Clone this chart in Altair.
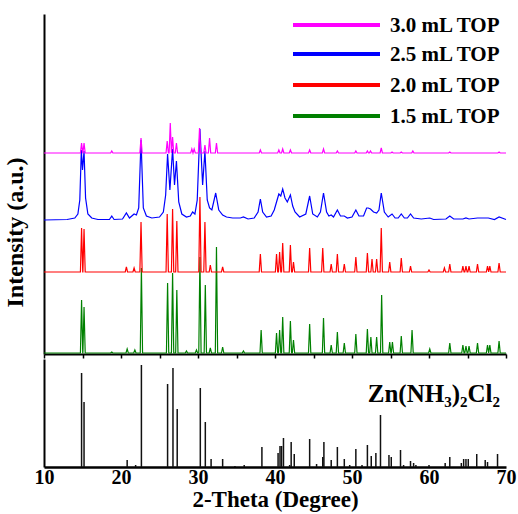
import altair as alt
import pandas as pd

# ---- data -------------------------------------------------------------
samples = ["1.5 mL TOP", "2.0 mL TOP", "2.5 mL TOP", "3.0 mL TOP"]
colors = ["#008000", "#ff0000", "#0000ff", "#ff00ff"]

# 1.5 mL TOP : peak positions (2θ, deg) and heights (a.u.)
green_pos = [14.88, 15.2, 18.8, 20.8, 21.8, 22.65, 26.05, 26.7, 27.25, 28.5, 29.8,
             30.25, 30.95, 31.6, 32.4, 33.2, 35.9, 38.2, 40.2, 40.6, 41.0, 42.0,
             42.4, 44.5, 46.3, 47.3, 48.1, 49.0, 50.5, 52.0, 52.45, 53.2, 53.85,
             54.9, 55.25, 56.4, 57.8, 60.1, 62.7, 64.4, 64.8, 65.2, 66.3, 67.6,
             67.9, 69.1]
green_int = [53, 46, 1, 4, 3, 85, 70, 80, 63, 2, 3,
             96, 68, 5, 106, 6, 2, 23, 20, 23, 36, 32,
             13, 29, 35, 8, 21, 10, 19, 24, 16, 16, 58,
             11, 11, 17, 23, 4, 10, 8, 7, 7, 10, 8,
             8, 12]

# 2.0 mL TOP
red_pos = [14.88, 15.2, 20.7, 21.7, 22.6, 26.0, 26.7, 27.25, 30.25, 30.9, 31.6,
           33.2, 38.1, 40.2, 40.6, 41.0, 42.0, 42.4, 44.5, 46.2, 47.3, 48.1,
           49.0, 50.5, 52.0, 52.6, 53.2, 53.8, 54.9, 56.4, 57.6, 60.0, 62.0,
           62.7, 64.4, 64.8, 65.2, 66.3, 67.6, 67.9, 69.1]
red_int = [44, 43, 5, 4, 50, 58, 63, 51, 75, 50, 7,
           5, 18, 18, 20, 29, 27, 10, 24, 24, 8, 18,
           8, 15, 19, 13, 13, 44, 10, 14, 6, 2, 4,
           8, 6, 6, 6, 8, 6, 6, 9]

# 2.5 mL TOP : broad profile, traced point by point
blue_x = [10.0, 13.0, 14.0, 14.4, 14.65, 14.85, 15.0, 15.2, 15.4, 15.7,
          16.2, 17.0, 18.5, 18.8, 19.1, 20.2, 20.7, 21.1, 21.7, 22.0,
          22.3, 22.6, 22.9, 23.3, 24.0, 25.0, 25.5, 25.8, 26.05, 26.35,
          26.7, 26.95, 27.2, 27.5, 27.9, 28.5, 29.0, 29.3, 29.6, 29.9,
          30.25, 30.6, 30.9, 31.2, 31.5, 31.8, 32.3, 32.7, 33.2, 33.7,
          34.5, 35.5, 35.9, 36.5, 37.3, 37.8, 38.1, 38.4, 38.9, 39.5,
          39.9, 40.2, 40.5, 40.75, 41.0, 41.3, 41.6, 42.0, 42.3, 42.6,
          43.2, 44.0, 44.5, 44.9, 45.5, 45.9, 46.3, 46.7, 47.0, 47.3,
          47.6, 48.1, 48.5, 49.0, 49.4, 50.0, 50.5, 50.9, 51.5, 51.9,
          52.1, 52.4, 52.8, 53.2, 53.5, 53.8, 54.2, 54.7, 55.2, 55.6,
          56.0, 56.4, 56.8, 57.2, 57.6, 58.0, 59.0, 60.1, 60.6, 62.2,
          62.7, 63.2, 64.4, 64.8, 65.2, 66.3, 67.7, 68.5, 69.1, 70.0]
blue_y = [0, 0.5, 2, 6, 20, 70, 50, 69, 22, 6,
          2, 0.5, 0.5, 4, 0.5, 1, 7, 2, 6, 5,
          12, 80, 12, 4, 2, 3, 8, 25, 66, 30,
          71, 35, 59, 18, 6, 3, 4, 8, 6, 20,
          91, 35, 69, 20, 12, 10, 27, 10, 5, 3,
          2, 2, 3, 1, 2, 8, 21, 8, 3, 4,
          10, 18, 26, 24, 31, 22, 18, 25, 14, 8,
          3, 6, 24, 6, 3, 8, 27, 8, 4, 5,
          3, 10, 4, 4, 2, 3, 10, 4, 4, 12,
          12, 11, 8, 7, 10, 27, 8, 3, 6, 2,
          2, 6, 2, 2, 6, 2, 1, 2, 0.5, 1,
          4, 1, 1, 2, 1, 2, 2, 0.5, 3, 0.5]

# 3.0 mL TOP
magenta_pos = [14.88, 15.2, 18.8, 22.6, 26.0, 26.4, 26.7, 27.2, 29.2, 29.5,
               30.2, 30.9, 31.5, 32.4, 38.1, 40.5, 41.0, 42.0, 44.5, 46.3,
               48.1, 50.5, 52.0, 52.4, 53.8, 55.2, 56.4, 57.9, 62.7, 69.1]
magenta_int = [10, 10, 2, 15, 12, 30, 16, 10, 4, 4,
               25, 8, 15, 10, 3, 3, 4, 3, 3, 4,
               2, 2, 2, 2, 5, 1, 1, 2, 1, 1]

# Reference pattern Zn(NH3)2Cl2 : line positions and relative intensities
ref_pos = [14.88, 15.2, 20.8, 21.9, 22.65, 26.05, 26.75, 27.3, 30.3, 30.95,
           31.7, 33.2, 34.8, 36.0, 38.3, 40.4, 40.65, 40.85, 41.1, 41.9,
           42.1, 42.5, 44.5, 45.4, 46.2, 46.35, 47.3, 48.1, 49.0, 49.7,
           50.5, 51.3, 52.0, 52.5, 53.1, 53.7, 54.8, 55.1, 56.3, 56.7,
           57.6, 58.0, 58.3, 60.0, 62.1, 62.7, 64.2, 64.5, 64.8, 65.1,
           66.2, 67.3, 67.6, 68.9]
ref_int = [94, 65, 7, 2, 102, 83, 99, 58, 79, 45,
           8, 8, 1, 2, 20, 14, 21, 21, 29, 2,
           25, 13, 28, 3, 10, 25, 7, 20, 8, 2,
           18, 2, 22, 11, 14, 52, 12, 10, 17, 2,
           6, 4, 2, 2, 4, 10, 4, 8, 8, 8,
           13, 7, 5, 13]
ref_label = "Zn(NH₃)₂Cl₂"

# ---- build the stacked traces ----------------------------------------
X_MIN, X_MAX = 10, 70
PEAK_HW = 0.15  # half base width of a sharp reflection, degrees


def peak_outline(pos, inten):
    xs, ys = [X_MIN], [0.0]
    for p, h in zip(pos, inten):
        xs += [p - PEAK_HW, p, p + PEAK_HW]
        ys += [0.0, h, 0.0]
    xs.append(X_MAX)
    ys.append(0.0)
    return xs, ys


profiles = {
    "1.5 mL TOP": peak_outline(green_pos, green_int),
    "2.0 mL TOP": peak_outline(red_pos, red_int),
    "2.5 mL TOP": (blue_x, blue_y),
    "3.0 mL TOP": peak_outline(magenta_pos, magenta_int),
}
stack_offset = {"1.5 mL TOP": 1, "2.0 mL TOP": 82, "2.5 mL TOP": 134, "3.0 mL TOP": 201}

rows = []
for name in samples:
    xs, ys = profiles[name]
    for i, (x, y) in enumerate(zip(xs, ys)):
        rows.append({"sample": name, "theta": x, "signal": y + stack_offset[name], "idx": i})
traces = pd.DataFrame(rows)

ref_df = pd.DataFrame({"theta": ref_pos, "intensity": ref_int, "base": 0})

FONT = "Liberation Serif"
W = 462
TOP_H = 340
BOT_H = 108
x_scale = alt.Scale(domain=[X_MIN, X_MAX], nice=False, zero=False)

# ---- upper panel: measured patterns -----------------------------------
lines = alt.Chart(traces).mark_line(strokeWidth=1.2).encode(
    x=alt.X("theta:Q", scale=x_scale,
            axis=alt.Axis(values=list(range(10, 71, 5)), labels=False, title=None,
                          tickSize=4, tickWidth=1.5, tickColor="black",
                          domainWidth=2, domainColor="black", grid=False)),
    y=alt.Y("signal:Q", scale=alt.Scale(domain=[0, TOP_H], nice=False),
            axis=alt.Axis(title="Intensity (a.u.)", labels=False, ticks=False, grid=False,
                          domainWidth=2, domainColor="black",
                          titleFont=FONT, titleFontSize=24, titleFontWeight="bold",
                          titleColor="black", titleX=-17, titleY=218)),
    color=alt.Color("sample:N", scale=alt.Scale(domain=samples, range=colors), legend=None),
    order="idx:Q",
)

legend_rows_y = [11, 40, 71, 102]
legend_layers = []
for row_y, name, col in zip(legend_rows_y, samples[::-1], colors[::-1]):
    d = pd.DataFrame({"label": [name]})
    legend_layers.append(
        alt.Chart(d).mark_rule(color=col, strokeWidth=4).encode(
            x=alt.value(249), x2=alt.value(336), y=alt.value(row_y))
    )
    legend_layers.append(
        alt.Chart(d).mark_text(align="left", baseline="middle", font=FONT, fontSize=21,
                               fontWeight="bold", color="black").encode(
            x=alt.value(346), y=alt.value(row_y + 1), text="label:N")
    )

top = alt.layer(lines, *legend_layers).properties(width=W, height=TOP_H)

# ---- lower panel: reference stick pattern -----------------------------
sticks = alt.Chart(ref_df).mark_rule(color="#111111", strokeWidth=1.5).encode(
    x=alt.X("theta:Q", scale=x_scale,
            axis=alt.Axis(values=list(range(10, 71, 10)), ticks=False, labelFlush=False,
                          labelFont=FONT, labelFontSize=20, labelFontWeight="bold",
                          labelColor="black", labelPadding=0,
                          title="2-Theta (Degree)", titleFont=FONT, titleFontSize=23,
                          titleFontWeight="bold", titleColor="black", titlePadding=1,
                          domainWidth=2.5, domainColor="black", grid=False)),
    y=alt.Y("intensity:Q", scale=alt.Scale(domain=[0, BOT_H], nice=False),
            axis=alt.Axis(title=None, labels=False, ticks=False, grid=False,
                          domainWidth=2, domainColor="black")),
    y2="base:Q",
)

phase_label = alt.Chart(pd.DataFrame({"t": [ref_label]})).mark_text(
    align="right", baseline="alphabetic", font=FONT, fontSize=25, fontWeight="bold",
    color="black").encode(x=alt.value(456), y=alt.value(43), text="t:N")

bottom = alt.layer(sticks, phase_label).properties(width=W, height=BOT_H)

chart = alt.vconcat(top, bottom, spacing=0).properties(
    padding={"left": 3, "top": 14, "right": 1, "bottom": 1},
    background="white",
).configure_view(stroke=None)

chart.save("out.html", embed_options={"renderer": "svg", "actions": False})
